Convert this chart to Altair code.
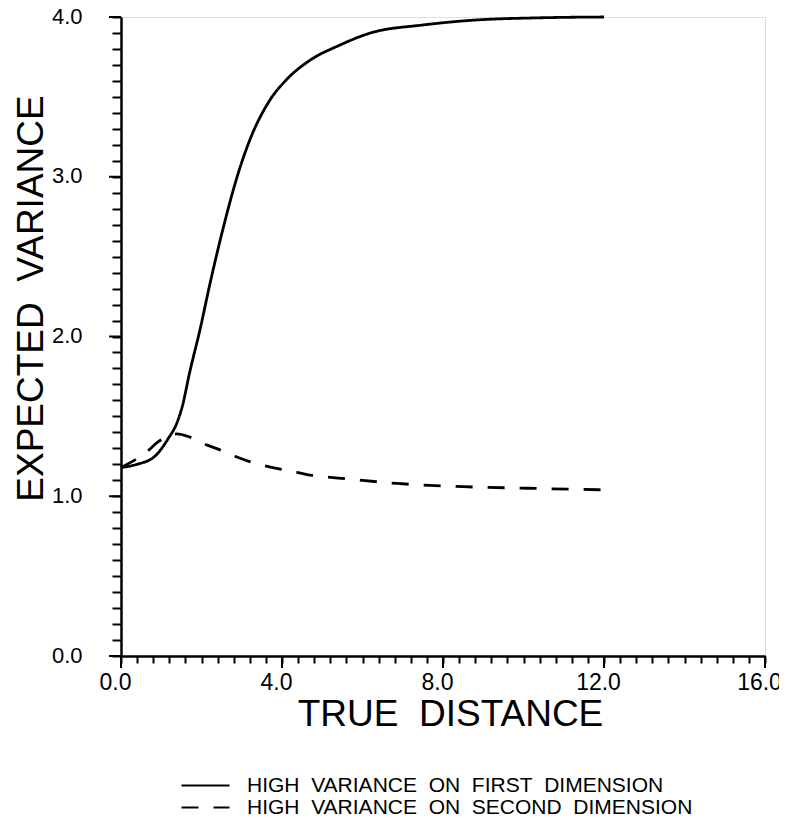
import altair as alt
import pandas as pd

# --- data ---
solid_x = [0.0, 0.4, 0.84, 1.17, 1.39, 1.52, 1.71, 1.96, 2.21, 2.5, 2.96, 3.2, 3.7, 4.12, 4.7, 5.4, 6.2, 7.5, 8.75, 10.4, 12.0]
solid_y = [1.18, 1.20, 1.25, 1.36, 1.46, 1.56, 1.78, 2.04, 2.33, 2.64, 3.06, 3.23, 3.48, 3.61, 3.73, 3.82, 3.90, 3.95, 3.98, 3.995, 4.0]
dash_x = [0.0, 0.65, 0.92, 1.39, 1.71, 2.14, 2.46, 2.83, 3.16, 3.58, 3.95, 4.37, 4.75, 5.14, 5.57, 6.86, 8.5, 10.1, 12.0]
dash_y = [1.18, 1.28, 1.34, 1.39, 1.37, 1.32, 1.29, 1.25, 1.22, 1.19, 1.17, 1.15, 1.13, 1.12, 1.11, 1.08, 1.06, 1.05, 1.04]

series_names = ["HIGH\u00a0 VARIANCE\u00a0 ON\u00a0 FIRST\u00a0 DIMENSION",
                "HIGH\u00a0 VARIANCE\u00a0 ON\u00a0 SECOND\u00a0 DIMENSION"]

x_minor_ticks = [round(i * 0.4, 1) for i in range(41)]
y_minor_ticks = [round(i * 0.1, 1) for i in range(41)]
x_major_ticks = [0.0, 4.0, 8.0, 12.0, 16.0]
y_major_ticks = [0.0, 1.0, 2.0, 3.0, 4.0]

W, H = 644, 639
FONT = "Liberation Sans"

df = pd.concat([
    pd.DataFrame({"x": solid_x, "y": solid_y, "series": series_names[0], "order": range(len(solid_x))}),
    pd.DataFrame({"x": dash_x, "y": dash_y, "series": series_names[1], "order": range(len(dash_x))}),
])

xscale = alt.Scale(domain=[0, 16], nice=False, zero=False)
yscale = alt.Scale(domain=[0, 4], nice=False, zero=False)

x_axis = alt.Axis(
    values=x_minor_ticks, tickCount=200, tickSize=7, tickWidth=2, tickColor="black",
    domainWidth=2.5, domainColor="black", grid=False,
    labelExpr="datum.value % 4 === 0 ? format(datum.value, '.1f') : ''",
    labelFont=FONT, labelFontSize=23, labelColor="black", labelPadding=8, labelOffset=-6,
    labelOverlap=False, labelFlush=False,
    title="TRUE\u00a0 DISTANCE", titleFont=FONT, titleFontSize=37, titleFontWeight="normal",
    titleColor="black", titleX=329, titleY=69, titleBaseline="alphabetic", titleAlign="center",
)
y_axis = alt.Axis(
    values=y_minor_ticks, tickCount=200, tickSize=9, tickWidth=2, tickColor="black",
    domainWidth=2.5, domainColor="black", grid=False,
    labelExpr="datum.value % 1 === 0 ? format(datum.value, '.1f') : ''",
    labelFont=FONT, labelFontSize=22, labelColor="black", labelPadding=30, labelOffset=-1,
    labelOverlap=False, labelFlush=False,
    title="EXPECTED\u00a0 VARIANCE", titleFont=FONT, titleFontSize=37, titleFontWeight="normal",
    titleColor="black", titleX=-79, titleY=281, titleAngle=270, titleBaseline="alphabetic",
    titleAlign="center",
)

lines = alt.Chart(df).mark_line(color="black", strokeWidth=2.8, interpolate="monotone").encode(
    x=alt.X("x:Q", scale=xscale, axis=x_axis),
    y=alt.Y("y:Q", scale=yscale, axis=y_axis),
    order="order:Q",
    strokeDash=alt.StrokeDash(
        "series:N",
        scale=alt.Scale(domain=series_names, range=[[1, 0], [17, 15]]),
        legend=alt.Legend(
            orient="none", legendX=59, legendY=758, title=None,
            symbolType="stroke", symbolSize=2304, symbolStrokeWidth=2.2,
            symbolStrokeColor="black", symbolOffset=0,
            labelFont=FONT, labelFontSize=21, labelColor="black", labelOffset=16,
            clipHeight=21, rowPadding=0, padding=0, labelLimit=600,
        ),
    ),
)

xmaj = alt.Chart(pd.DataFrame({"v": x_major_ticks})).mark_rule(color="black", strokeWidth=2).encode(
    x=alt.X("v:Q", scale=xscale), y=alt.value(H), y2=alt.value(H + 12)
)
ymaj = alt.Chart(pd.DataFrame({"v": y_major_ticks})).mark_rule(color="black", strokeWidth=2).encode(
    y=alt.Y("v:Q", scale=yscale), x=alt.value(-12), x2=alt.value(0)
)

chart = alt.layer(lines, xmaj, ymaj).properties(
    width=W, height=H,
    autosize=alt.AutoSizeParams(type="none"),
    padding={"left": 113, "top": 9, "right": 14, "bottom": 161},
).configure_view(stroke="transparent").configure(background="white")

chart.save("out.html", embed_options={"renderer": "svg", "actions": False})
